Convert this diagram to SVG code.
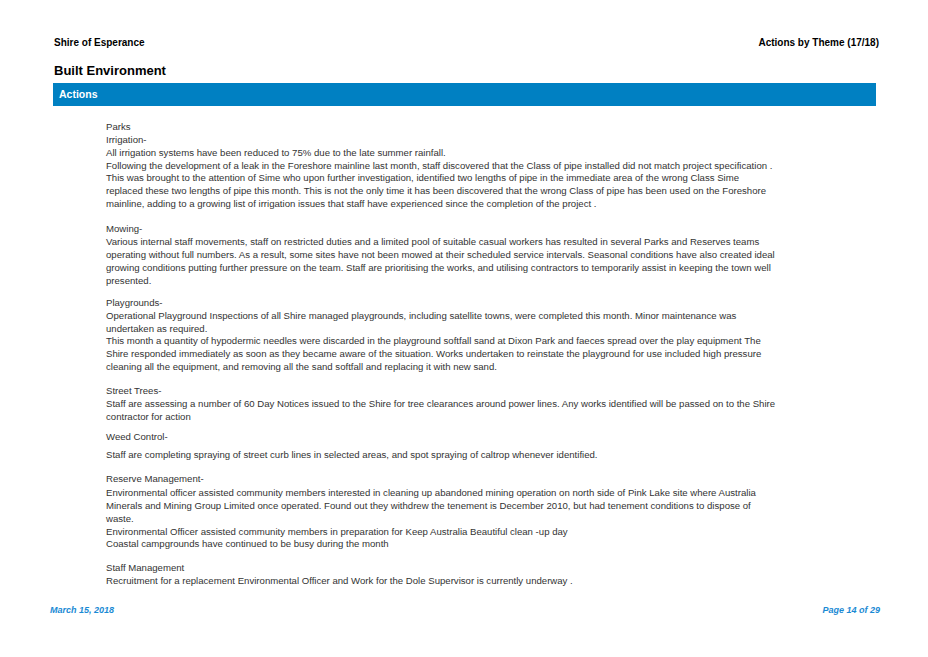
<svg xmlns="http://www.w3.org/2000/svg" width="928" height="657" viewBox="0 0 928 657">
<style>
.h{font-family:"Liberation Sans",Arial,sans-serif;font-weight:bold;font-size:10px;fill:#000}
.b{font-family:"Liberation Sans",Arial,sans-serif;font-size:9.6px;fill:#333}
.f{font-family:"Liberation Sans",Arial,sans-serif;font-weight:bold;font-style:italic;font-size:9px;fill:#1a8ad4}
</style>
<rect width="928" height="657" fill="#fff"/>
<text class="h" x="54" y="46">Shire of Esperance</text>
<text class="h" x="879" y="46" text-anchor="end">Actions by Theme  (17/18)</text>
<text class="h" x="54" y="75" style="font-size:13px">Built Environment</text>
<rect x="53" y="83" width="823" height="23" fill="#0080c2"/>
<text class="h" x="59" y="98" style="fill:#fff;font-size:10.5px">Actions</text>
<g class="b">
<text x="106" y="130" class="b">Parks</text>
<text x="106" y="143" class="b">Irrigation-</text>
<text x="106" y="156" class="b">All irrigation systems have been reduced to 75% due to the late summer rainfall.</text>
<text x="106" y="169" class="b">Following the development of a leak in the Foreshore mainline last month,  staff discovered that the Class of pipe installed did not match project specification .</text>
<text x="106" y="181" class="b">This was brought to the attention of Sime who  upon further investigation, identified two lengths of pipe in the immediate area of the wrong Class  Sime</text>
<text x="106" y="194" class="b">replaced these two lengths of pipe this month. This is not the only time it has been discovered that the wrong Class of pipe has been used on the Foreshore</text>
<text x="106" y="207" class="b">mainline, adding to a growing list of irrigation issues that staff have experienced since the completion of the project .</text>
<text x="106" y="232" class="b">Mowing-</text>
<text x="106" y="245" class="b">Various internal staff movements, staff on restricted duties  and a limited pool of suitable casual workers has resulted in several Parks and Reserves teams</text>
<text x="106" y="258" class="b">operating without full numbers. As a result, some sites have not been mowed at their scheduled service intervals. Seasonal conditions have also created ideal</text>
<text x="106" y="271" class="b">growing conditions putting further pressure on the team.  Staff are prioritising the works, and utilising contractors to temporarily assist in keeping the town well</text>
<text x="106" y="284" class="b">presented.</text>
<text x="106" y="306" class="b">Playgrounds-</text>
<text x="106" y="319" class="b">Operational Playground Inspections of all Shire managed playgrounds, including satellite towns, were completed this month. Minor maintenance was</text>
<text x="106" y="332" class="b">undertaken as required.</text>
<text x="106" y="344" class="b">This month a quantity of hypodermic needles were discarded in the playground softfall sand at Dixon Park  and faeces spread over the play equipment  The</text>
<text x="106" y="357" class="b">Shire responded immediately as soon as they became aware of the situation.  Works undertaken to reinstate the playground for use included high pressure</text>
<text x="106" y="370" class="b">cleaning all the equipment, and removing all the sand softfall and replacing it with new sand.</text>
<text x="106" y="394" class="b">Street Trees-</text>
<text x="106" y="407" class="b">Staff are assessing a number of 60 Day Notices issued to the Shire for tree clearances around power lines. Any works identified will be passed on to the Shire</text>
<text x="106" y="420" class="b">contractor for action</text>
<text x="106" y="440" class="b">Weed Control-</text>
<text x="106" y="458" class="b">Staff are completing spraying of street curb lines in selected areas, and spot spraying of caltrop whenever identified.</text>
<text x="106" y="482" class="b">Reserve Management-</text>
<text x="106" y="496" class="b">Environmental officer assisted community members interested in cleaning up abandoned mining operation on north side of Pink Lake site where Australia</text>
<text x="106" y="509" class="b">Minerals and Mining Group Limited once operated. Found out they withdrew the tenement is December 2010, but had tenement conditions to dispose of</text>
<text x="106" y="522" class="b">waste.</text>
<text x="106" y="535" class="b">Environmental Officer assisted community members in preparation for Keep Australia Beautiful clean -up day</text>
<text x="106" y="547" class="b">Coastal campgrounds have continued to be busy during the month</text>
<text x="106" y="571" class="b">Staff Management</text>
<text x="106" y="584" class="b">Recruitment for a replacement Environmental Officer and Work for the Dole Supervisor is currently underway .</text>
</g>
<text class="f" x="50" y="613">March 15, 2018</text>
<text class="f" x="880" y="613" text-anchor="end">Page 14 of 29</text>
</svg>
